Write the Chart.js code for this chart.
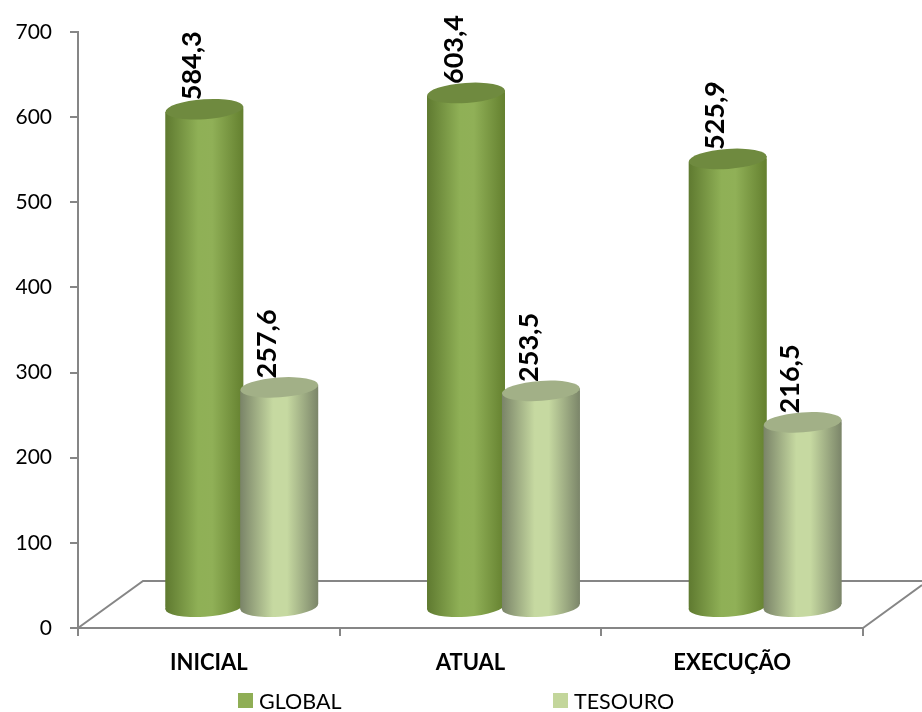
<!DOCTYPE html>
<html>
<head>
<meta charset="utf-8">
<title>Global x Tesouro</title>
<script src="https://cdn.jsdelivr.net/npm/chart.js@4"></script>
<style>
    body { margin: 0; background: #fff; position: relative; width: 922px; height: 712px; overflow: hidden; }
    canvas { display: block; }
    .legend-item { position: absolute; top: 688px; font: 21.5px Lato; color: #000; line-height: 26px; white-space: nowrap; }
    .legend-item i { position: absolute; left: -21px; top: 5px; width: 15px; height: 15px; }
</style>
</head>
<body>
<canvas id="cylinderChart" width="922" height="712"></canvas>
<script>
const categories = ['INICIAL', 'ATUAL', 'EXECUÇÃO'];
const globalValues = [584.3, 603.4, 525.9];
const tesouroValues = [257.6, 253.5, 216.5];
const yTicks = [0, 100, 200, 300, 400, 500, 600, 700];
const seriesNames = ['GLOBAL', 'TESOURO'];

const axisColor = '#868686';
const legendColors = ['#8fae55', '#c3d69b'];
const legendLefts = [259, 574];
const topColors = ['#6f8a3f', '#a2b087'];
const bodyStops = [
    ['#5f7a30', '#8fb056', '#90b057', '#64802f'],
    ['#7a8468', '#c6d9a1', '#c6d9a1', '#7b8569']
];

// group of two cylinders, sits to the right of the category band (fake 3D depth)
const groupShift = 0.626;
const categoryPct = 0.5725;
const barPct = 1.04;
const ellipseRy = 10;
const ellipseTilt = -0.07;

function bodyGradient(ctx) {
    const chart = ctx.chart;
    const scale = chart.scales.xb;
    const stops = bodyStops[ctx.datasetIndex];
    if (!scale || ctx.dataIndex === undefined) return stops[1];
    const chunk = scale.getPixelForValue(1) - scale.getPixelForValue(0);
    const group = chunk * categoryPct / 2;
    const center = scale.getPixelForValue(ctx.dataIndex) + (ctx.datasetIndex - 0.5) * group;
    const half = group * barPct / 2;
    if (!isFinite(center) || !isFinite(half)) return stops[1]; // scale not laid out yet
    const grad = chart.ctx.createLinearGradient(center - half, 0, center + half, 0);
    grad.addColorStop(0, stops[0]);
    grad.addColorStop(0.42, stops[1]);
    grad.addColorStop(0.6, stops[2]);
    grad.addColorStop(1, stops[3]);
    return grad;
}

const floorPlugin = {
    id: 'floor',
    beforeDatasetsDraw(chart) {
        const c = chart.ctx;
        const { left, right, bottom } = chart.chartArea;
        c.save();
        c.strokeStyle = axisColor;
        c.lineWidth = 2;
        c.beginPath();
        c.moveTo(left, bottom);
        c.lineTo(left + 65, bottom - 47);
        c.lineTo(922, bottom - 47);
        c.moveTo(right, bottom);
        c.lineTo(922, bottom - 43);
        c.stroke();
        c.restore();
    }
};

// draws the library's bars as cylinders, left one first so the right one overlaps it,
// then the rotated value labels. Returning false skips the plain bar drawing.
const cylinderPlugin = {
    id: 'cylinder',
    beforeDatasetsDraw(chart) {
        const c = chart.ctx;
        [0, 1].forEach(function (d) {
            const meta = chart.getDatasetMeta(d);
            meta.data.forEach(function (bar) {
                const rx = bar.width / 2;
                const dy = rx * Math.sin(ellipseTilt);
                c.save();
                c.fillStyle = bar.options.backgroundColor;
                c.beginPath();
                c.ellipse(bar.x, bar.base, rx, ellipseRy, ellipseTilt, 0, Math.PI * 2);
                c.fill();
                c.beginPath();
                c.moveTo(bar.x - rx, bar.y - dy);
                c.lineTo(bar.x + rx, bar.y + dy);
                c.lineTo(bar.x + rx, bar.base + dy);
                c.lineTo(bar.x - rx, bar.base - dy);
                c.closePath();
                c.fill();
                c.clip();
                bar.draw(c);
                c.restore();
                c.save();
                c.fillStyle = topColors[d];
                c.beginPath();
                c.ellipse(bar.x, bar.y, rx, ellipseRy, ellipseTilt, 0, Math.PI * 2);
                c.fill();
                c.restore();
            });
        });
        [0, 1].forEach(function (d) {
            const meta = chart.getDatasetMeta(d);
            const values = chart.data.datasets[d].data;
            meta.data.forEach(function (bar, i) {
                c.save();
                c.translate(bar.x - 12, bar.y - 9);
                c.rotate(-Math.PI / 2);
                c.font = 'bold 27px Lato';
                c.fillStyle = '#000';
                c.textAlign = 'left';
                c.textBaseline = 'middle';
                c.fillText(values[i].y.toFixed(1).replace('.', ','), 0, 0);
                c.restore();
            });
        });
        return false;
    }
};

document.addEventListener('DOMContentLoaded', function () {
    const ctx = document.getElementById('cylinderChart').getContext('2d');

    new Chart(ctx, {
        type: 'bar',
        data: {
            labels: categories,
            datasets: [
                {
                    label: seriesNames[0],
                    data: globalValues.map((v, i) => ({ x: i, y: v })),
                    backgroundColor: bodyGradient,
                    xAxisID: 'xb',
                    yAxisID: 'yb'
                },
                {
                    label: seriesNames[1],
                    data: tesouroValues.map((v, i) => ({ x: i, y: v })),
                    backgroundColor: bodyGradient,
                    xAxisID: 'xb',
                    yAxisID: 'yb'
                }
            ]
        },
        options: {
            responsive: false,
            animation: false,
            layout: { padding: { top: 32, right: 59, bottom: 34 } },
            categoryPercentage: categoryPct,
            barPercentage: barPct,
            scales: {
                x: {
                    type: 'category',
                    labels: categories,
                    offset: true,
                    grid: { drawOnChartArea: false, color: axisColor, lineWidth: 2, tickLength: 8, offset: true },
                    border: { color: axisColor, width: 2 },
                    ticks: { color: '#000', font: { family: 'Lato', size: 22, weight: 'bold' }, padding: 14 },
                    afterFit(scale) { scale.height = 50; }
                },
                y: {
                    min: 0,
                    max: 700,
                    afterBuildTicks(scale) { scale.ticks = yTicks.map(v => ({ value: v })); },
                    grid: { drawOnChartArea: false, color: axisColor, lineWidth: 2, tickLength: 8 },
                    border: { color: axisColor, width: 2 },
                    ticks: { color: '#000', font: { family: 'Lato', size: 21 }, padding: 18 },
                    afterFit(scale) { scale.width = 78; }
                },
                // hidden scales the cylinders stand on: same pixels per unit, base lifted onto the floor
                xb: {
                    type: 'linear',
                    display: false,
                    position: 'bottom',
                    offset: false,
                    min: -groupShift,
                    max: 3 - groupShift,
                    afterBuildTicks(scale) { scale.ticks = categories.map((c, i) => ({ value: i })); }
                },
                yb: { type: 'linear', display: false, position: 'left', min: -25, max: 675 }
            },
            plugins: {
                tooltip: { enabled: false },
                legend: { display: false }
            }
        },
        plugins: [floorPlugin, cylinderPlugin]
    });

    // legend entries sit much further apart than the built-in legend's padding allows
    seriesNames.forEach(function (name, i) {
        const item = document.createElement('div');
        item.className = 'legend-item';
        item.style.left = legendLefts[i] + 'px';
        item.textContent = name;
        const swatch = document.createElement('i');
        swatch.style.background = legendColors[i];
        item.appendChild(swatch);
        document.body.appendChild(item);
    });
});
</script>
</body>
</html>
